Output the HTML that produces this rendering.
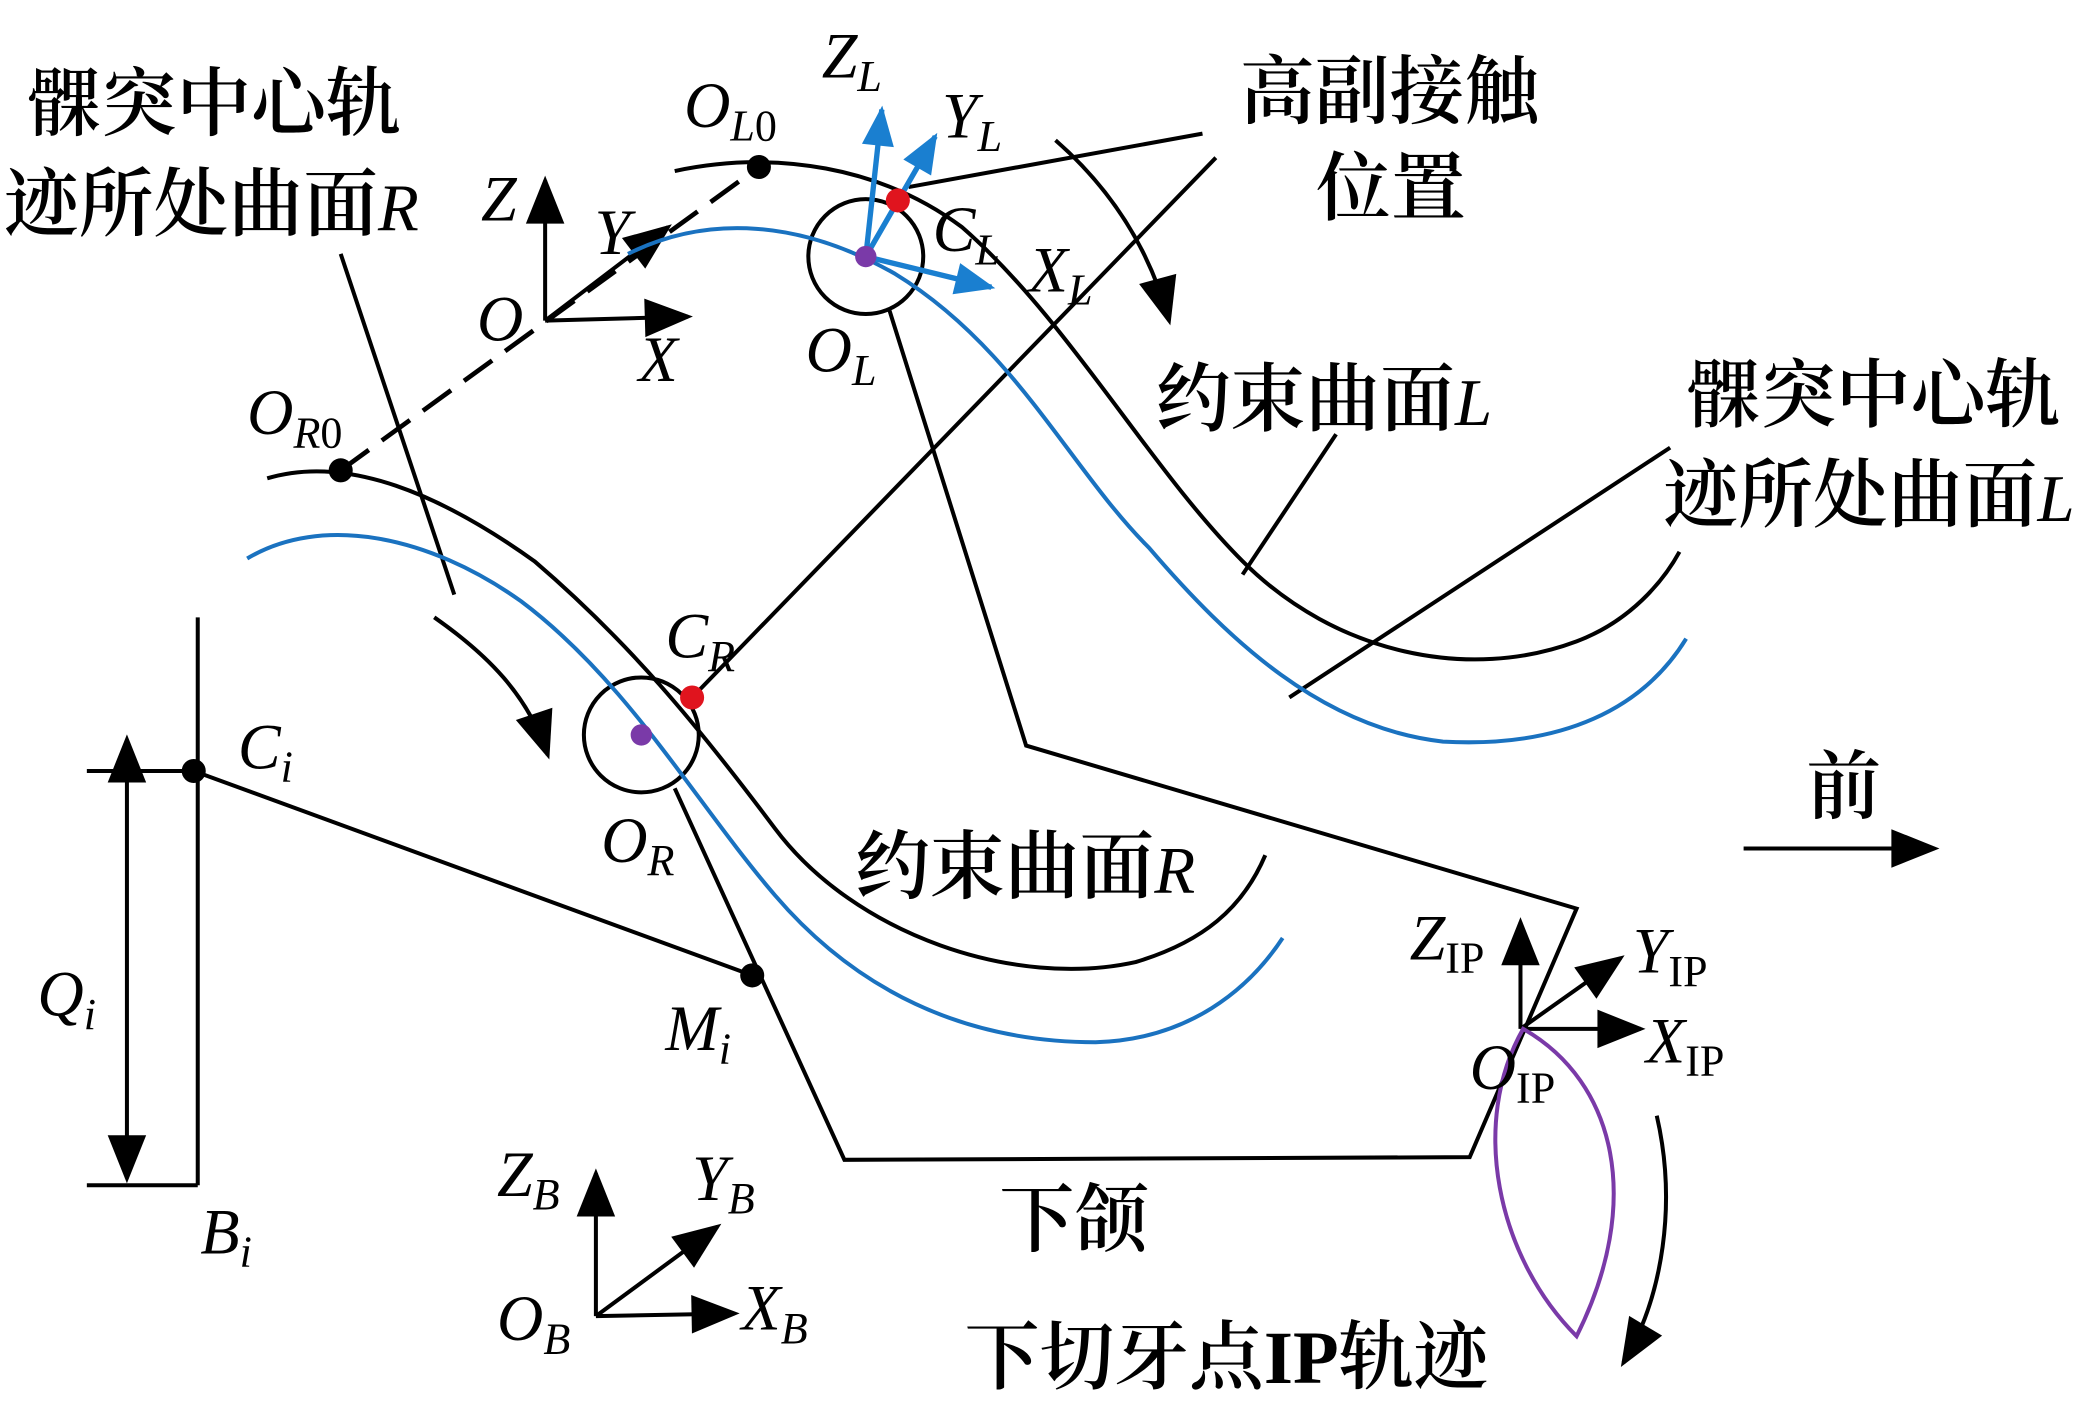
<!DOCTYPE html>
<html><head><meta charset="utf-8"><style>
html,body{margin:0;padding:0;background:#fff;}
svg{display:block;}
.cn{font-family:"Liberation Serif","Noto Serif CJK SC","Noto Sans CJK SC",serif;font-size:56px;font-weight:600;fill:#000;}
.cn .v{font-weight:normal;font-size:50px;}
.v{font-family:"Liberation Serif",serif;font-style:italic;font-size:48px;fill:#000;}
.s{font-size:33px;}
.r{font-style:normal;}
</style></head><body>
<svg width="2095" height="1407" viewBox="0 0 1568 1053" preserveAspectRatio="none" xmlns="http://www.w3.org/2000/svg">
<defs>
<marker id="ak" viewBox="0 0 10 10" refX="9" refY="5" markerWidth="40" markerHeight="36" orient="auto" markerUnits="userSpaceOnUse"><path d="M0,1 L10,5 L0,9 Z" fill="#000"/></marker>
<marker id="ak2" viewBox="0 0 10 10" refX="1" refY="5" markerWidth="40" markerHeight="36" orient="auto-start-reverse" markerUnits="userSpaceOnUse"><path d="M0,1 L10,5 L0,9 Z" fill="#000"/></marker>
<marker id="bl" viewBox="0 0 10 10" refX="9" refY="5" markerWidth="34" markerHeight="30" orient="auto" markerUnits="userSpaceOnUse"><path d="M0,1 L10,5 L0,9 Z" fill="#1a7fd0"/></marker>
</defs>
<g fill="none" stroke="#000" stroke-width="3">
<path d="M200,358 C260,340 330,370 400,420 C470,480 520,540 580,620 C640,700 760,740 850,720 C900,705 930,680 947,640"/>
<path d="M505,128 C580,112 660,125 720,170 C800,240 860,350 930,420 C1000,490 1100,510 1180,480 C1220,465 1245,435 1257,413"/>
<line x1="255" y1="190" x2="340" y2="445"/>
<line x1="518" y1="522" x2="910" y2="118"/>
<line x1="680" y1="140" x2="900" y2="100"/>
<line x1="1000" y1="325" x2="930" y2="430"/>
<line x1="1250" y1="335" x2="965" y2="522"/>
<polyline points="665,230 768,558 1180,680 1100,866 632,868 505,590"/>
<line x1="145" y1="577" x2="563" y2="730"/>
<line x1="148" y1="462" x2="148" y2="887"/>
<line x1="65" y1="577" x2="148" y2="577"/>
<line x1="65" y1="887" x2="148" y2="887"/>
<line x1="95" y1="582" x2="95" y2="882" marker-end="url(#ak)" marker-start="url(#ak2)"/>
<line x1="255" y1="352" x2="568" y2="125" stroke-dasharray="26,12" stroke-width="3.5"/>
<circle cx="480" cy="550" r="43"/>
<circle cx="648" cy="192" r="43"/>
<line x1="408" y1="240" x2="408" y2="135" marker-end="url(#ak)"/>
<line x1="408" y1="240" x2="515" y2="237" marker-end="url(#ak)"/>
<line x1="408" y1="240" x2="500" y2="170" marker-end="url(#ak)"/>
<line x1="446" y1="985" x2="446" y2="878" marker-end="url(#ak)"/>
<line x1="446" y1="985" x2="550" y2="983" marker-end="url(#ak)"/>
<line x1="446" y1="985" x2="537" y2="918" marker-end="url(#ak)"/>
<line x1="1138" y1="770" x2="1138" y2="690" marker-end="url(#ak)"/>
<line x1="1138" y1="770" x2="1228" y2="770" marker-end="url(#ak)"/>
<line x1="1138" y1="770" x2="1213" y2="717" marker-end="url(#ak)"/>
<path d="M325,462 C365,490 395,520 410,565" marker-end="url(#ak)"/>
<path d="M790,105 C830,140 860,185 875,240" marker-end="url(#ak)"/>
<line x1="1305" y1="635" x2="1448" y2="635" marker-end="url(#ak)"/>
<path d="M1240,835 C1255,900 1245,970 1215,1020" marker-end="url(#ak)"/>
</g>
<g fill="none" stroke="#1a72c0" stroke-width="3">
<path d="M185,418 C240,385 320,400 390,450 C470,510 520,600 580,670 C640,740 720,780 820,780 C890,778 935,740 960,702"/>
<path d="M470,190 C530,160 600,165 670,205 C760,260 800,350 860,410 C920,480 990,545 1080,555 C1170,560 1230,530 1262,478"/>
</g>
<g stroke="#1a7fd0" stroke-width="4" fill="none">
<line x1="648" y1="192" x2="660" y2="82" marker-end="url(#bl)"/>
<line x1="648" y1="192" x2="700" y2="102" marker-end="url(#bl)"/>
<line x1="648" y1="192" x2="742" y2="215" marker-end="url(#bl)"/>
</g>
<path d="M1140,770 C1210,810 1230,900 1180,1000 C1120,940 1100,840 1140,770 Z" fill="none" stroke="#7a3aa8" stroke-width="3"/>
<circle cx="255" cy="352" r="9" fill="#000"/>
<circle cx="568" cy="125" r="9" fill="#000"/>
<circle cx="145" cy="577" r="9" fill="#000"/>
<circle cx="563" cy="730" r="9" fill="#000"/>
<circle cx="480" cy="550" r="8" fill="#7a3aa8"/>
<circle cx="648" cy="192" r="8" fill="#7a3aa8"/>
<circle cx="518" cy="522" r="9" fill="#e0141e"/>
<circle cx="672" cy="150" r="9" fill="#e0141e"/>
<text class="cn" x="20" y="97">髁突中心轨</text>
<text class="cn" x="3" y="172">迹所处曲面<tspan class="v">R</tspan></text>
<text class="cn" x="928" y="88">高副接触</text>
<text class="cn" x="985" y="160">位置</text>
<text class="cn" x="865" y="318">约束曲面<tspan class="v">L</tspan></text>
<text class="cn" x="1262" y="315">髁突中心轨</text>
<text class="cn" x="1245" y="390">迹所处曲面<tspan class="v">L</tspan></text>
<text class="cn" x="640" y="668">约束曲面<tspan class="v">R</tspan></text>
<text class="cn" x="1352" y="608">前</text>
<text class="cn" x="748" y="932">下颌</text>
<text class="cn" x="722" y="1035">下切牙点IP轨迹</text>
<text class="v" x="360" y="165">Z</text>
<text class="v" x="445" y="190">Y</text>
<text class="v" x="357" y="255">O</text>
<text class="v" x="478" y="285">X</text>
<text class="v" x="512" y="95">O<tspan class="s" dy="10">L</tspan><tspan class="s r">0</tspan></text>
<text class="v" x="615" y="58">Z<tspan class="s" dy="10">L</tspan></text>
<text class="v" x="705" y="103">Y<tspan class="s" dy="10">L</tspan></text>
<text class="v" x="698" y="188">C<tspan class="s" dy="10">L</tspan></text>
<text class="v" x="770" y="218">X<tspan class="s" dy="10">L</tspan></text>
<text class="v" x="603" y="278">O<tspan class="s" dy="10">L</tspan></text>
<text class="v" x="185" y="325">O<tspan class="s" dy="10">R</tspan><tspan class="s r">0</tspan></text>
<text class="v" x="498" y="492">C<tspan class="s" dy="10">R</tspan></text>
<text class="v" x="450" y="645">O<tspan class="s" dy="10">R</tspan></text>
<text class="v" x="178" y="575">C<tspan class="s" dy="10">i</tspan></text>
<text class="v" x="28" y="760">Q<tspan class="s" dy="10">i</tspan></text>
<text class="v" x="498" y="786">M<tspan class="s" dy="10">i</tspan></text>
<text class="v" x="150" y="938">B<tspan class="s" dy="10">i</tspan></text>
<text class="v" x="372" y="895">Z<tspan class="s" dy="10">B</tspan></text>
<text class="v" x="518" y="898">Y<tspan class="s" dy="10">B</tspan></text>
<text class="v" x="372" y="1003">O<tspan class="s" dy="10">B</tspan></text>
<text class="v" x="555" y="995">X<tspan class="s" dy="10">B</tspan></text>
<text class="v" x="1055" y="718">Z<tspan class="s r" dy="10">IP</tspan></text>
<text class="v" x="1222" y="728">Y<tspan class="s r" dy="10">IP</tspan></text>
<text class="v" x="1232" y="795">X<tspan class="s r" dy="10">IP</tspan></text>
<text class="v" x="1100" y="815">O<tspan class="s r" dy="10">IP</tspan></text>
</svg>
</body></html>
